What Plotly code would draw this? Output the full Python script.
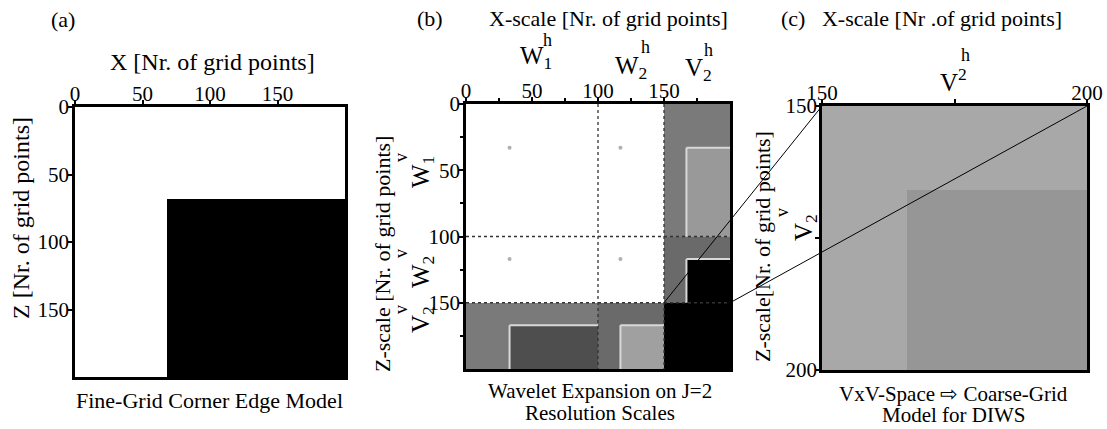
import plotly.graph_objects as go

W, H = 1107, 429
FONT = "Liberation Serif"

# ---------------- data ----------------
# Panel (a): fine-grid corner edge model (gray level 0..255)
a_x_edges = [0, 68, 200]
a_z_edges = [0, 68, 200]
a_gray = [[255, 255],
          [255, 0]]
a_ticks = [0, 50, 100, 150]

# Panel (b): wavelet expansion on J=2 scales
b_x_edges = [0, 33, 100, 117, 150, 167, 200]
b_z_edges = [0, 33, 100, 117, 150, 167, 200]
b_gray = [
    [255, 255, 255, 255, 122, 122],
    [255, 255, 255, 255, 122, 153],
    [255, 255, 255, 255, 106, 106],
    [255, 255, 255, 255, 106, 0],
    [122, 122, 106, 106, 0, 0],
    [122, 78, 106, 160, 0, 0],
]
b_ticks = [0, 50, 100, 150]
b_minor = [25, 75, 125, 175]
b_dot_x = [33, 117, 33, 117]
b_dot_z = [33, 33, 117, 117]
b_scale_bounds = [100, 150]
# inner blocks (x0, x1, z0, z1) whose top/left edges show a light rim
b_rim_blocks = [(33, 100, 167, 200), (117, 150, 167, 200),
                (167, 200, 33, 100), (167, 200, 117, 150)]

# Panel (c): VxV space coarse-grid model
c_x_edges = [150, 166, 200]
c_z_edges = [150, 166, 200]
c_gray = [[168, 168],
          [168, 150]]
c_ticks = [150, 175, 200]
c_ticktext = ["150", "", "200"]

# ---------------- layout geometry (pixels) ----------------
A = dict(x0=75, x1=345, y0=107, y1=377)
B = dict(x0=466, x1=730, y0=104, y1=369)
C = dict(x0=822, x1=1087, y0=106, y1=370)


def xd(p):
    return [p["x0"] / W, p["x1"] / W]


def yd(p):
    return [1 - p["y1"] / H, 1 - p["y0"] / H]


def px(x):
    return x / W


def py(y):
    return 1 - y / H


gray_scale = [[0, "black"], [1, "white"]]

fig = go.Figure()
for xe, ze, g, xa, ya in [
    (a_x_edges, a_z_edges, a_gray, "x", "y"),
    (b_x_edges, b_z_edges, b_gray, "x2", "y2"),
    (c_x_edges, c_z_edges, c_gray, "x3", "y3"),
]:
    fig.add_trace(go.Heatmap(x=xe, y=ze, z=g, zmin=0, zmax=255, colorscale=gray_scale,
                             showscale=False, zsmooth=False, hoverinfo="skip",
                             xaxis=xa, yaxis=ya))

fig.add_trace(go.Scatter(x=b_dot_x, y=b_dot_z, mode="markers",
                         marker=dict(size=4, color="#b0b0b0"), xaxis="x2", yaxis="y2",
                         hoverinfo="skip", showlegend=False))

axis_common = dict(showline=True, linewidth=2.5, linecolor="black", mirror=True,
                   ticks="outside", ticklen=4, tickwidth=2, tickcolor="black",
                   showgrid=False, zeroline=False, automargin=False,
                   tickfont=dict(family=FONT, size=21, color="black"))

minor_b = dict(tickvals=b_minor, ticklen=3, tickwidth=2, tickcolor="black", ticks="outside")

fig.update_layout(
    width=W, height=H,
    margin=dict(l=0, r=0, t=0, b=0, autoexpand=False),
    paper_bgcolor="white", plot_bgcolor="white",
    showlegend=False,
    font=dict(family=FONT, color="black"),
    xaxis=dict(domain=xd(A), range=[0, 200], side="top", anchor="y",
               tickvals=a_ticks, ticklabelstandoff=-9, **axis_common),
    yaxis=dict(domain=yd(A), range=[200, 0], anchor="x",
               tickvals=a_ticks, ticklabelstandoff=-5, **axis_common),
    xaxis2=dict(domain=xd(B), range=[0, 200], side="top", anchor="y2",
                tickvals=b_ticks, minor=minor_b, ticklabelstandoff=-9, **axis_common),
    yaxis2=dict(domain=yd(B), range=[200, 0], anchor="x2",
                tickvals=b_ticks, minor=minor_b, ticklabelstandoff=-5, **axis_common),
    xaxis3=dict(domain=xd(C), range=[150, 200], side="top", anchor="y3",
                tickvals=c_ticks, ticktext=c_ticktext, ticklabelstandoff=-9, **axis_common),
    yaxis3=dict(domain=yd(C), range=[200, 150], anchor="x3",
                tickvals=c_ticks, ticktext=c_ticktext, ticklabelstandoff=-6, **axis_common),
)

# light rims on the coefficient blocks in (b)
for (x0, x1, z0, z1) in b_rim_blocks:
    fig.add_shape(type="line", xref="x2", yref="y2", x0=x0, x1=x1, y0=z0, y1=z0,
                  line=dict(color="#d8d8d8", width=2))
    fig.add_shape(type="line", xref="x2", yref="y2", x0=x0, x1=x0, y0=z0, y1=z1,
                  line=dict(color="#d8d8d8", width=2))

# dotted scale boundaries in (b)
for v in b_scale_bounds:
    fig.add_shape(type="line", xref="x2", yref="y2", x0=v, x1=v, y0=0, y1=200,
                  line=dict(color="#333333", width=1.3, dash="dot"))
    fig.add_shape(type="line", xref="x2", yref="y2", x0=0, x1=200, y0=v, y1=v,
                  line=dict(color="#333333", width=1.3, dash="dot"))


# zoom connector lines from (b) to (c)
def bpx(xv, zv):
    return (px(B["x0"] + (B["x1"] - B["x0"]) * xv / 200),
            py(B["y0"] + (B["y1"] - B["y0"]) * zv / 200))


def cpx(xv, zv):
    return (px(C["x0"] + (C["x1"] - C["x0"]) * (xv - 150) / 50),
            py(C["y0"] + (C["y1"] - C["y0"]) * (zv - 150) / 50))


for xv in [150, 200]:
    p0 = bpx(xv, 150)
    p1 = cpx(xv, 150)
    fig.add_shape(type="line", xref="paper", yref="paper", x0=p0[0], y0=p0[1],
                  x1=p1[0], y1=p1[1], line=dict(color="black", width=1))

ann = []


def T(text, x, y, size=20, angle=0, xanchor="center"):
    ann.append(dict(text=text, x=px(x), y=py(y), xref="paper", yref="paper",
                    showarrow=False, textangle=angle, xanchor=xanchor, yanchor="middle",
                    font=dict(family=FONT, size=size, color="black")))


# panel (a)
T("(a)", 63, 20, 22)
T("X [Nr. of grid points]", 212, 62, 24)
T("Z [Nr. of grid points]", 21, 218, 24, -90)
T("Fine-Grid Corner Edge Model", 209, 400, 22)

# panel (b)
T("(b)", 430, 19, 22)
T("X-scale [Nr. of grid points]", 608, 18, 22)
T("W<sub>1</sub>", 536, 58, 25)
T("h", 547, 40, 18)
T("W<sub>2</sub>", 631, 68, 25)
T("h", 645, 47, 18)
T("V<sub>2</sub>", 698, 69, 25)
T("h", 708, 50, 18)
T("Z-scale [Nr. of grid points]", 382, 254, 22, -90)
T("W<sub>1</sub>", 422, 172, 25, -90)
T("v", 401, 158, 18, -90)
T("W<sub>2</sub>", 422, 272, 25, -90)
T("v", 401, 254, 18, -90)
T("V<sub>2</sub>", 422, 320, 25, -90)
T("v", 401, 310, 18, -90)
T("Wavelet Expansion on J=2", 600, 391, 21)
T("Resolution Scales", 600, 413, 21)

# panel (c)
T("(c)   X-scale [Nr .of grid points]", 921, 18, 22)
T("V<sup>2</sup>", 953, 80, 25)
T("h", 965, 55, 18)
T("Z-scale[Nr. of grid points]", 762, 247, 22, -90)
T("V<sub>2</sub>", 805, 228, 25, -90)
T("v", 782, 213, 18, -90)
T("VxV-Space \u21e8 Coarse-Grid", 953, 394, 21)
T("Model for DIWS", 953, 415, 21)

fig.update_layout(annotations=ann)

fig.write_html("out.html", config={"displayModeBar": False},
               post_script="document.body.style.margin='0px';document.body.style.overflow='hidden';")
